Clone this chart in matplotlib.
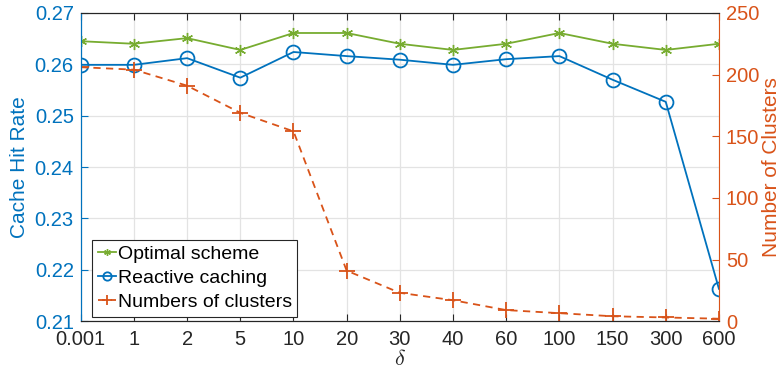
import matplotlib.pyplot as plt
import numpy as np

plt.rcParams['font.family'] = ['Liberation Sans', 'DejaVu Sans']
plt.rcParams['mathtext.fontset'] = 'cm'

# data
delta_labels = ['0.001', '1', '2', '5', '10', '20', '30', '40', '60', '100', '150', '300', '600']
optimal = [0.2645, 0.2640, 0.2651, 0.2628, 0.2661, 0.2661, 0.2640, 0.2628, 0.2640, 0.2661, 0.2640, 0.2628, 0.2640]
reactive = [0.2599, 0.2599, 0.2612, 0.2574, 0.2624, 0.2616, 0.2609, 0.2599, 0.2610, 0.2616, 0.2570, 0.2527, 0.2163]
clusters = [206, 204, 191, 169, 154, 41, 23, 17, 9, 6.5, 4, 3, 2]

blue = '#0072BD'
orange = '#D95319'
green = '#77AC30'
dark = '#262626'

x = np.arange(len(delta_labels))

fig = plt.figure(figsize=(7.84, 3.81), dpi=100)
ax = fig.add_axes([0.103, 0.157, 0.814, 0.809])
ax2 = ax.twinx()

l1, = ax.plot(x, optimal, color=green, marker=(6, 2, 0), markersize=8, lw=1.3, label='Optimal scheme')
l2, = ax.plot(x, reactive, color=blue, marker='o', markersize=10, mfc='none', mew=1.3, lw=1.3, label='Reactive caching')
l3, = ax2.plot(x, clusters, color=orange, marker='+', markersize=11, mew=1.3, lw=1.3, ls='--', dashes=(4, 3), label='Numbers of clusters')

ax.set_xlim(0, len(delta_labels) - 1)
ax.set_ylim(0.21, 0.27)
ax.set_yticks([0.21, 0.22, 0.23, 0.24, 0.25, 0.26, 0.27])
ax.set_yticklabels(['0.21', '0.22', '0.23', '0.24', '0.25', '0.26', '0.27'])
ax2.set_ylim(0, 250)
ax2.set_yticks([0, 50, 100, 150, 200, 250])

ax.set_xticks(x)
ax.set_xticklabels(delta_labels)
ax.grid(True, color='#e3e3e3', lw=0.9)
ax.set_axisbelow(True)

ax.tick_params(axis='x', direction='in', top=True, colors=dark, labelsize=14.5, length=5, pad=6)
ax.tick_params(axis='y', direction='in', colors=blue, labelsize=14.5, length=5, pad=5)
ax2.tick_params(axis='y', direction='in', colors=orange, labelsize=14.5, length=5, pad=5)

ax.spines['left'].set_color(blue)
ax2.spines['left'].set_color(blue)
ax2.spines['right'].set_color(orange)
for a in (ax, ax2):
    a.spines['top'].set_color(dark)
    a.spines['bottom'].set_color(dark)
ax.spines['right'].set_visible(False)

ax.set_ylabel('Cache Hit Rate', color=blue, fontsize=15, labelpad=4)
ax2.set_ylabel('Number of Clusters', color=orange, fontsize=15, labelpad=2)
ax.set_xlabel(r'$\delta$', color=dark, fontsize=16, labelpad=0)

leg = ax2.legend(handles=[l1, l2, l3], loc='lower left', bbox_to_anchor=(0.018, 0.015),
                 fontsize=14, handlelength=0.9, handletextpad=0.1, borderpad=0.3,
                 labelspacing=0.32, borderaxespad=0, markerscale=0.6,
                 fancybox=False, edgecolor=dark, framealpha=1)
leg.get_frame().set_linewidth(0.8)

fig.savefig('out.png', dpi=100)
